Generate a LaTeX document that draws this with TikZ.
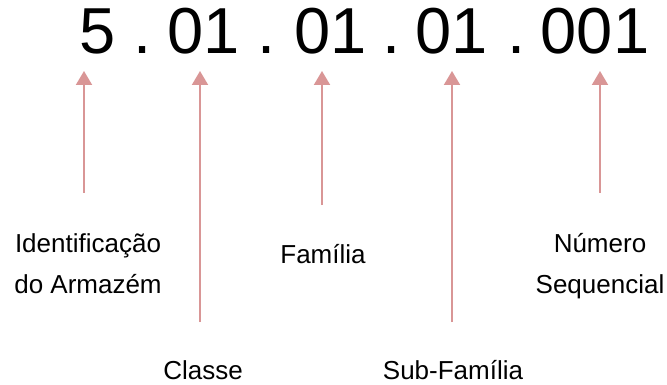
\documentclass[tikz,border=0pt]{standalone}
\usepackage{fontspec}
\setmainfont{Liberation Sans}
\usetikzlibrary{arrows.meta}
\definecolor{pointer}{RGB}{217,150,150}
\begin{document}
\begin{tikzpicture}[x=1pt,y=-1pt,
  code/.style={font=\fontsize{65}{65}\selectfont, inner sep=0pt, anchor=base},
  label/.style={font=\fontsize{26}{41}\selectfont, inner sep=0pt, anchor=base, align=center},
  pointer/.style={draw=pointer, line width=2pt, -{Triangle[width=16pt,length=14pt]}}]
  \useasboundingbox (0,0) rectangle (667,385);
  % code number, group by group
  \node[code] (s1) at (97.5,54) {5};
  \node[code] (d1) at (142.5,54) {.};
  \node[code] (s2) at (204,54) {01};
  \node[code] (d2) at (267,54) {.};
  \node[code] (s3) at (330.5,54) {01};
  \node[code] (d3) at (392,54) {.};
  \node[code] (s4) at (452,54) {01};
  \node[code] (d4) at (516.5,54) {.};
  \node[code] (s5) at (595,54) {001};
  % arrow tips under each group
  \coordinate (t1) at (84,71);
  \coordinate (t2) at (200,71);
  \coordinate (t3) at (322,71);
  \coordinate (t4) at (452,71);
  \coordinate (t5) at (600,71);
  % free ends of the arrows
  \coordinate (b1) at (84,193);
  \coordinate (b2) at (200,322);
  \coordinate (b3) at (322,205);
  \coordinate (b4) at (452,322);
  \coordinate (b5) at (600,193);
  % labels (base = baseline of the last line)
  \node[label] (armazem) at (88,293) {Identificação\\do Armazém};
  \node[label] (classe) at (203,379) {Classe};
  \node[label] (familia) at (323,263) {Família};
  \node[label] (subfam) at (453,379) {Sub-Família};
  \node[label] (seq) at (600,293) {Número\\Sequencial};
  % pointers
  \foreach \i in {1,...,5}
    \draw[pointer] (b\i) -- (t\i);
\end{tikzpicture}
\end{document}
